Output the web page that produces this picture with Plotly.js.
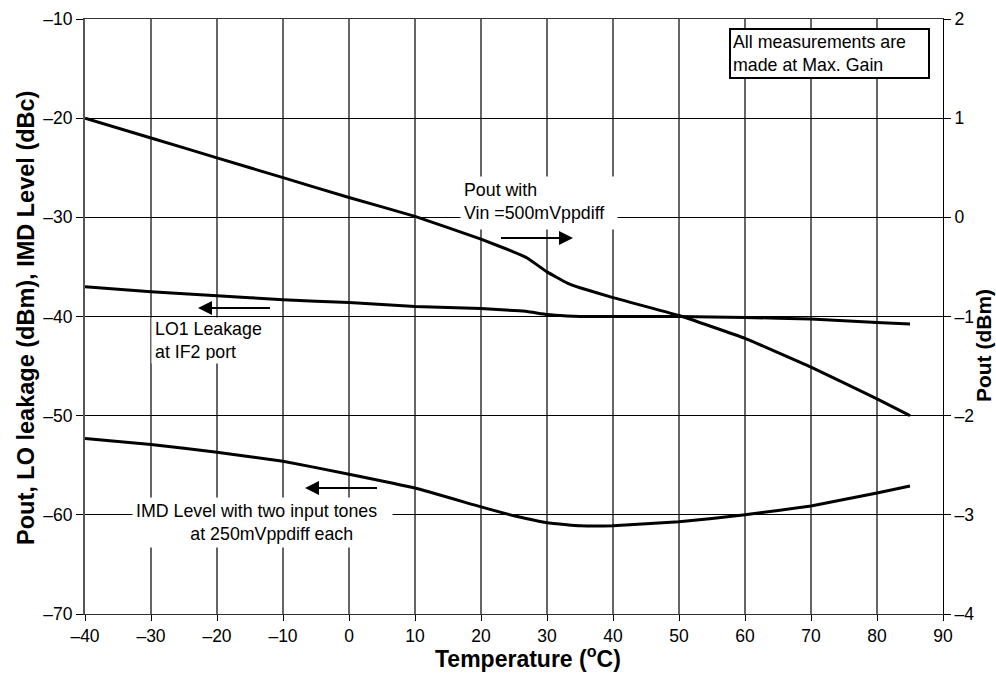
<!DOCTYPE html>
<html>
<head>
<meta charset="utf-8">
<script src="https://cdn.plot.ly/plotly-3.0.1.min.js"></script>
<style>html,body{margin:0;padding:0;background:#fff;}#chart{width:996px;height:673px;}</style>
</head>
<body>
<div id="chart"></div>
<script>
// Temperature (°C)
var temperature = [-40, -30, -20, -10, 0, 10, 20, 25, 27, 30, 33, 35, 40, 50, 60, 70, 80, 85];
// Pout (dBm), right axis
var pout = [1.0, 0.8, 0.6, 0.4, 0.2, 0.01, -0.22, -0.35, -0.41, -0.55, -0.66, -0.71, -0.81, -0.99, -1.22, -1.51, -1.83, -2.0];
// LO1 leakage at IF2 port (dBm), left axis
var loLeak = [-37.0, -37.5, -37.9, -38.3, -38.6, -39.0, -39.2, -39.4, -39.5, -39.8, -39.95, -40.0, -40.0, -40.0, -40.1, -40.25, -40.6, -40.75];
// IMD level (dBc), left axis
var imd = [-52.3, -52.9, -53.7, -54.6, -55.9, -57.3, -59.2, -60.1, -60.4, -60.8, -61.0, -61.1, -61.1, -60.7, -60.0, -59.1, -57.8, -57.1];

var xTickVals = [-40, -30, -20, -10, 0, 10, 20, 30, 40, 50, 60, 70, 80, 90];
var xTickText = ['\u201340', '\u201330', '\u201320', '\u201310', '0', '10', '20', '30', '40', '50', '60', '70', '80', '90'];
var yTickVals = [-70, -60, -50, -40, -30, -20, -10];
var yTickText = ['\u201370', '\u201360', '\u201350', '\u201340', '\u201330', '\u201320', '\u201310'];
var y2TickVals = [-4, -3, -2, -1, 0, 1, 2];
var y2TickText = ['\u20134', '\u20133', '\u20132', '\u20131', '0', '1', '2'];

var FONT = '"Liberation Sans", Arial, Helvetica, sans-serif';
var lineStyle = {color: '#000', width: 3, shape: 'spline', smoothing: 0.3};

var traces = [
  {x: temperature, y: pout, yaxis: 'y2', mode: 'lines', line: lineStyle, name: 'Pout', hoverinfo: 'skip'},
  {x: temperature, y: loLeak, mode: 'lines', line: lineStyle, name: 'LO1 Leakage', hoverinfo: 'skip'},
  {x: temperature, y: imd, mode: 'lines', line: lineStyle, name: 'IMD Level', hoverinfo: 'skip'}
];

var nb = '\u00a0';
var indent = nb.repeat(11);

var annFont = {family: FONT, size: 17.8, color: '#000'};
var arrowCommon = {text: ' ', showarrow: true, arrowhead: 2, arrowsize: 1.4, arrowwidth: 2, arrowcolor: '#000', xref: 'x', yref: 'y', axref: 'x', ayref: 'y'};

var annotations = [
  // Pout label
  {xref: 'x', yref: 'y', x: 28.79, y: -28.55, text: 'Pout with<br>Vin =500mVppdiff', showarrow: false,
   font: annFont, align: 'left', valign: 'top', width: 150, height: 46, borderpad: 3, bgcolor: '#fff', xanchor: 'center', yanchor: 'middle'},
  // LO label
  {xref: 'x', yref: 'y', x: -20.76, y: -42.42, text: 'LO1 Leakage<br>at IF2 port', showarrow: false,
   font: annFont, align: 'left', valign: 'middle', width: 114, height: 39, borderpad: 3, bgcolor: '#fff', xanchor: 'center', yanchor: 'middle'},
  // IMD label
  {xref: 'x', yref: 'y', x: -13.11, y: -60.77, text: 'IMD Level with two input tones<br>' + indent + 'at 250mVppdiff each', showarrow: false,
   font: annFont, align: 'left', valign: 'middle', width: 253, height: 43, borderpad: 3, bgcolor: '#fff', xanchor: 'center', yanchor: 'middle'},
  // note box
  {xref: 'x', yref: 'y', x: 72.80, y: -13.48, text: 'All measurements are<br>made at Max. Gain', showarrow: false,
   font: annFont, align: 'left', valign: 'middle', width: 193, height: 43, borderpad: 2, borderwidth: 2, bordercolor: '#000', bgcolor: '#fff', xanchor: 'center', yanchor: 'middle'},
  // arrows
  Object.assign({}, arrowCommon, {x: 33.94, y: -32.08, ax: 22.58, ay: -32.08}),
  Object.assign({}, arrowCommon, {x: -22.88, y: -39.14, ax: -11.52, ay: -39.14}),
  Object.assign({}, arrowCommon, {x: -6.67, y: -57.29, ax: 4.70, ay: -57.29}),
  // axis titles
  {xref: 'paper', yref: 'paper', x: -0.0688, y: 0.4975, textangle: -90, showarrow: false, xanchor: 'center', yanchor: 'middle',
   text: '<b>Pout, LO leakage (dBm), IMD Level (dBc)</b>', font: {family: FONT, size: 23.5, color: '#000'}},
  {xref: 'paper', yref: 'paper', x: 1.0466, y: 0.452, textangle: -90, showarrow: false, xanchor: 'center', yanchor: 'middle',
   text: '<b>Pout (dBm)</b>', font: {family: FONT, size: 21, color: '#000'}},
  {xref: 'paper', yref: 'paper', x: 0.5163, y: -0.072, showarrow: false, xanchor: 'center', yanchor: 'middle',
   text: '<b>Temperature (<sup>o</sup>C)</b>', font: {family: FONT, size: 23, color: '#000'}}
];

var tickFont = {family: FONT, size: 17.5, color: '#000'};

var layout = {
  width: 996, height: 673,
  margin: {l: 85, r: 53, t: 19, b: 59, pad: 0},
  paper_bgcolor: '#fff', plot_bgcolor: '#fff',
  showlegend: false,
  font: {family: FONT, color: '#000'},
  xaxis: {
    range: [-40, 90], tickvals: xTickVals, ticktext: xTickText, tickfont: tickFont,
    ticks: 'outside', ticklen: 6, tickcolor: '#000', tickwidth: 1,
    showgrid: true, gridcolor: '#666', gridwidth: 1.3, zeroline: false,
    showline: true, mirror: true, linecolor: '#333', linewidth: 1
  },
  yaxis: {
    range: [-70, -10], tickvals: yTickVals, ticktext: yTickText, tickfont: tickFont,
    ticks: 'outside', ticklen: 7, tickcolor: '#000', tickwidth: 1,
    showgrid: true, gridcolor: '#000', gridwidth: 1, zeroline: false,
    showline: true, linecolor: '#555', linewidth: 2
  },
  yaxis2: {
    range: [-4, 2], tickvals: y2TickVals, ticktext: y2TickText, tickfont: tickFont,
    overlaying: 'y', side: 'right', anchor: 'x',
    ticks: 'outside', ticklen: 7, tickcolor: '#000', tickwidth: 1,
    showgrid: false, zeroline: false,
    showline: true, linecolor: '#000', linewidth: 1
  },
  annotations: annotations
};

Plotly.newPlot('chart', traces, layout, {displayModeBar: false, staticPlot: true});
</script>
</body>
</html>
